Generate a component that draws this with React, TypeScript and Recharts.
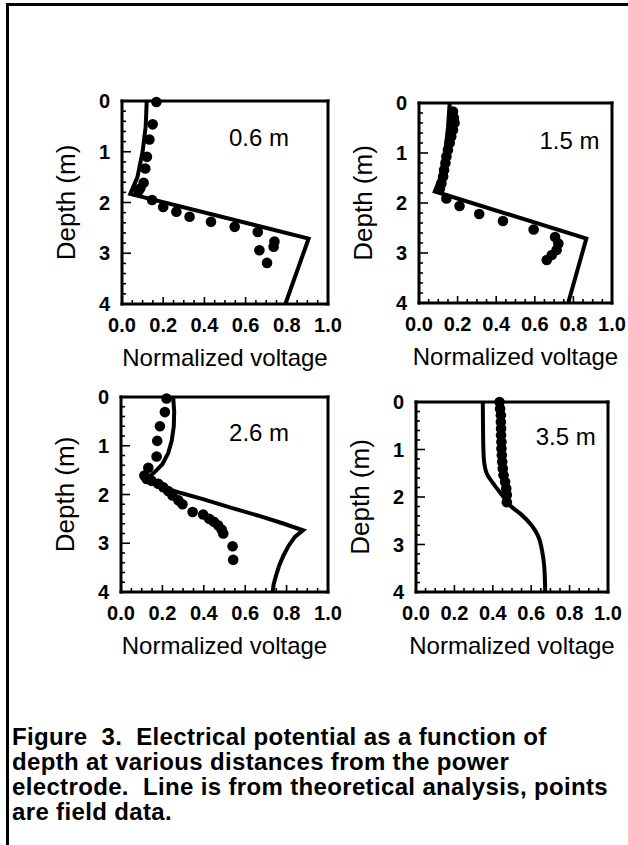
import React from "react";
import { ScatterChart, Scatter, XAxis, YAxis, ReferenceDot } from "recharts";

const FONT = '"Liberation Sans", Arial, Helvetica, sans-serif';

// tick positions (major ones get labels)
const voltTicks = [
  0, 0.05, 0.1, 0.15, 0.2, 0.25, 0.3, 0.35, 0.4, 0.45, 0.5, 0.55, 0.6, 0.65,
  0.7, 0.75, 0.8, 0.85, 0.9, 0.95, 1,
];
const depthTicks = [
  0, 0.2, 0.4, 0.6, 0.8, 1, 1.2, 1.4, 1.6, 1.8, 2, 2.2, 2.4, 2.6, 2.8, 3, 3.2,
  3.4, 3.6, 3.8, 4,
];

// [normalized voltage, depth m]
const theory06 = [
  [0.12, 0], [0.115, 0.5], [0.1, 1.0], [0.075, 1.5], [0.04, 1.83],
  [0.906, 2.71], [0.793, 4.0],
];
const field06 = [
  [0.167, 0.02], [0.149, 0.46], [0.133, 0.76], [0.121, 1.1], [0.113, 1.33],
  [0.105, 1.61], [0.089, 1.72], [0.08, 1.77], [0.146, 1.95], [0.2, 2.09],
  [0.264, 2.18], [0.328, 2.28], [0.432, 2.38], [0.547, 2.48], [0.659, 2.58],
  [0.74, 2.77], [0.736, 2.87], [0.667, 2.94], [0.704, 3.19],
];

const theory15 = [
  [0.159, 0], [0.15, 0.5], [0.135, 1.0], [0.11, 1.5], [0.082, 1.77],
  [0.867, 2.71], [0.773, 4.0],
];
const field15 = [
  [0.176, 0.17], [0.181, 0.3], [0.184, 0.4], [0.176, 0.54], [0.167, 0.67],
  [0.159, 0.8], [0.15, 0.94], [0.142, 1.07], [0.137, 1.2], [0.13, 1.34],
  [0.125, 1.47], [0.116, 1.61], [0.108, 1.71], [0.142, 1.91], [0.21, 2.06],
  [0.312, 2.22], [0.435, 2.36], [0.594, 2.53], [0.705, 2.68], [0.722, 2.81],
  [0.713, 2.94], [0.688, 3.04], [0.662, 3.14],
];

const theory26 = [
  [0.252, 0], [0.257, 0.3], [0.255, 0.6], [0.245, 0.9], [0.228, 1.15],
  [0.2, 1.38], [0.16, 1.55], [0.124, 1.68], [0.2, 1.85], [0.29, 1.97],
  [0.4, 2.1], [0.53, 2.27], [0.66, 2.43], [0.78, 2.59], [0.879, 2.735],
  [0.84, 2.87], [0.81, 3.05], [0.785, 3.25], [0.765, 3.45], [0.75, 3.65],
  [0.737, 3.85], [0.733, 4.0],
];
const field26 = [
  [0.22, 0.03], [0.212, 0.31], [0.188, 0.6], [0.175, 0.9], [0.172, 1.22],
  [0.132, 1.45], [0.113, 1.61], [0.124, 1.68], [0.148, 1.72], [0.18, 1.78],
  [0.204, 1.85], [0.228, 1.93], [0.249, 2.02], [0.277, 2.12], [0.297, 2.2],
  [0.346, 2.36], [0.397, 2.41], [0.426, 2.5], [0.449, 2.56], [0.469, 2.63],
  [0.486, 2.72], [0.494, 2.8], [0.539, 3.06], [0.542, 3.34],
];

const theory35 = [
  [0.348, 0], [0.349, 0.5], [0.351, 1.0], [0.356, 1.3], [0.369, 1.51],
  [0.403, 1.72], [0.456, 2.0], [0.49, 2.18], [0.543, 2.35], [0.603, 2.6],
  [0.638, 2.84], [0.656, 3.12], [0.668, 3.47], [0.673, 4.0],
];
const field35 = [
  [0.435, 0.0], [0.438, 0.14], [0.442, 0.28], [0.442, 0.42], [0.443, 0.56],
  [0.443, 0.7], [0.445, 0.84], [0.445, 0.98], [0.447, 1.12], [0.449, 1.26],
  [0.452, 1.4], [0.456, 1.54], [0.464, 1.68], [0.47, 1.82], [0.473, 1.96],
  [0.473, 2.11],
];

const captionLines = [
  "Figure  3.  Electrical potential as a function of",
  "depth at various distances from the power",
  "electrode.  Line is from theoretical analysis, points",
  "are field data.",
];

const toPts = (arr: number[][]) => arr.map(([v, d]) => ({ v, d }));
const isMajor = (val: number, step: number) =>
  Math.abs(val / step - Math.round(val / step)) < 1e-6;

const tickStroke = { stroke: "#000", strokeWidth: 1.6 };

const BottomTick = (props: any) => {
  const { x, y, payload } = props;
  const major = isMajor(payload.value, 0.2);
  return (
    <g>
      <line x1={x} y1={y} x2={x} y2={y - (major ? 7 : 4)} {...tickStroke} />
      {major && (
        <text
          x={x}
          y={y + 21}
          textAnchor="middle"
          dominantBaseline="central"
          fontFamily={FONT}
          fontWeight="bold"
          fontSize={20}
          fill="#000"
        >
          {payload.value.toFixed(1)}
        </text>
      )}
    </g>
  );
};

const TopTick = (props: any) => {
  const { x, y, payload } = props;
  const major = isMajor(payload.value, 0.2);
  return <line x1={x} y1={y} x2={x} y2={y + (major ? 7 : 4)} {...tickStroke} />;
};

const LeftTick = (props: any) => {
  const { x, y, payload } = props;
  const major = isMajor(payload.value, 1);
  return (
    <g>
      <line x1={x} y1={y} x2={x + (major ? 9 : 4)} y2={y} {...tickStroke} />
      {major && (
        <text
          x={x - 12}
          y={y}
          textAnchor="end"
          dominantBaseline="central"
          fontFamily={FONT}
          fontWeight="bold"
          fontSize={20}
          fill="#000"
        >
          {payload.value}
        </text>
      )}
    </g>
  );
};

const RightTick = (props: any) => {
  const { x, y, payload } = props;
  const major = isMajor(payload.value, 1);
  return <line x1={x} y1={y} x2={x - (major ? 9 : 4)} y2={y} {...tickStroke} />;
};

const axisLine = { stroke: "#000", strokeWidth: 3, strokeLinecap: "square" as const };

type PanelProps = {
  left: number;
  top: number;
  w: number;
  h: number;
  theory: number[][];
  field: number[][];
  tag: string;
  tagV: number;
  tagD: number;
  joint: any;
};

const Panel = ({ left, top, w, h, theory, field, tag, tagV, tagD, joint }: PanelProps) => {
  const padL = 72;
  const padT = 12;
  const padR = 24;
  return (
    <div style={{ position: "absolute", left: left - padL, top: top - padT }}>
      <ScatterChart
        width={padL + w + padR}
        height={padT + h + 70}
        margin={{ top: 10, right: padR - 2, bottom: 0, left: 0 }}
        style={{ fontFamily: FONT }}
      >
        <XAxis
          xAxisId="b"
          type="number"
          dataKey="v"
          domain={[0, 1]}
          ticks={voltTicks}
          interval={0}
          orientation="bottom"
          height={70}
          tickSize={0}
          tickMargin={0}
          tick={<BottomTick />}
          tickLine={false}
          axisLine={axisLine}
          label={{
            value: "Normalized voltage",
            position: "insideBottom",
            offset: 8,
            fontSize: 24,
            fill: "#000",
          }}
        />
        <XAxis
          xAxisId="t"
          type="number"
          domain={[0, 1]}
          ticks={voltTicks}
          interval={0}
          orientation="top"
          height={2}
          tickSize={0}
          tickMargin={0}
          tick={<TopTick />}
          tickLine={false}
          axisLine={axisLine}
        />
        <YAxis
          yAxisId="l"
          type="number"
          dataKey="d"
          domain={[0, 4]}
          reversed
          ticks={depthTicks}
          interval={0}
          orientation="left"
          width={padL}
          tickSize={0}
          tickMargin={0}
          tick={<LeftTick />}
          tickLine={false}
          axisLine={axisLine}
          label={{
            value: "Depth (m)",
            angle: -90,
            position: "insideLeft",
            offset: 16,
            fontSize: 26,
            fill: "#000",
            style: { textAnchor: "middle" },
          }}
        />
        <YAxis
          yAxisId="r"
          type="number"
          domain={[0, 4]}
          reversed
          ticks={depthTicks}
          interval={0}
          orientation="right"
          width={2}
          tickSize={0}
          tickMargin={0}
          tick={<RightTick />}
          tickLine={false}
          axisLine={axisLine}
        />
        <Scatter
          xAxisId="b"
          yAxisId="l"
          data={toPts(theory)}
          fill="#000"
          line={{ stroke: "#000", strokeWidth: 4, strokeLinejoin: "miter" }}
          lineJointType={joint}
          shape={() => <g />}
          isAnimationActive={false}
        />
        <Scatter
          xAxisId="b"
          yAxisId="l"
          data={toPts(field)}
          fill="#000"
          shape={(p: any) => <circle cx={p.cx} cy={p.cy} r={5.3} fill="#000" />}
          isAnimationActive={false}
        />
        <ReferenceDot
          xAxisId="b"
          yAxisId="l"
          x={tagV}
          y={tagD}
          r={0}
          fill="none"
          stroke="none"
          label={{ value: tag, position: "center", fontSize: 24, fill: "#000" }}
        />
      </ScatterChart>
    </div>
  );
};

export default function App() {
  return (
    <div
      style={{
        position: "absolute",
        left: 0,
        top: 0,
        width: 628,
        height: 845,
        background: "#fff",
        overflow: "hidden",
        fontFamily: FONT,
      }}
    >
      <div style={{ position: "absolute", left: 6, top: 3, width: 622, height: 3, background: "#000" }} />
      <div style={{ position: "absolute", left: 6, top: 3, width: 3, height: 842, background: "#000" }} />
      <Panel left={122} top={101} w={206} h={203} theory={theory06} field={field06} tag="0.6 m" tagV={0.665} tagD={0.71} joint="linear" />
      <Panel left={419} top={103} w={193} h={200} theory={theory15} field={field15} tag="1.5 m" tagV={0.78} tagD={0.74} joint="linear" />
      <Panel left={121} top={397} w={207} h={195} theory={theory26} field={field26} tag="2.6 m" tagV={0.667} tagD={0.72} joint="linear" />
      <Panel left={416} top={402} w={192} h={190} theory={theory35} field={field35} tag="3.5 m" tagV={0.78} tagD={0.72} joint="monotoneY" />
      <div
        style={{
          position: "absolute",
          left: 12,
          top: 724,
          fontSize: 24,
          fontWeight: "bold",
          lineHeight: "25px",
          letterSpacing: "0.35px",
          whiteSpace: "pre",
          color: "#000",
        }}
      >
        {captionLines.map((t, i) => (
          <React.Fragment key={t}>
            {t}
            {i < captionLines.length - 1 && <br />}
          </React.Fragment>
        ))}
      </div>
    </div>
  );
}
